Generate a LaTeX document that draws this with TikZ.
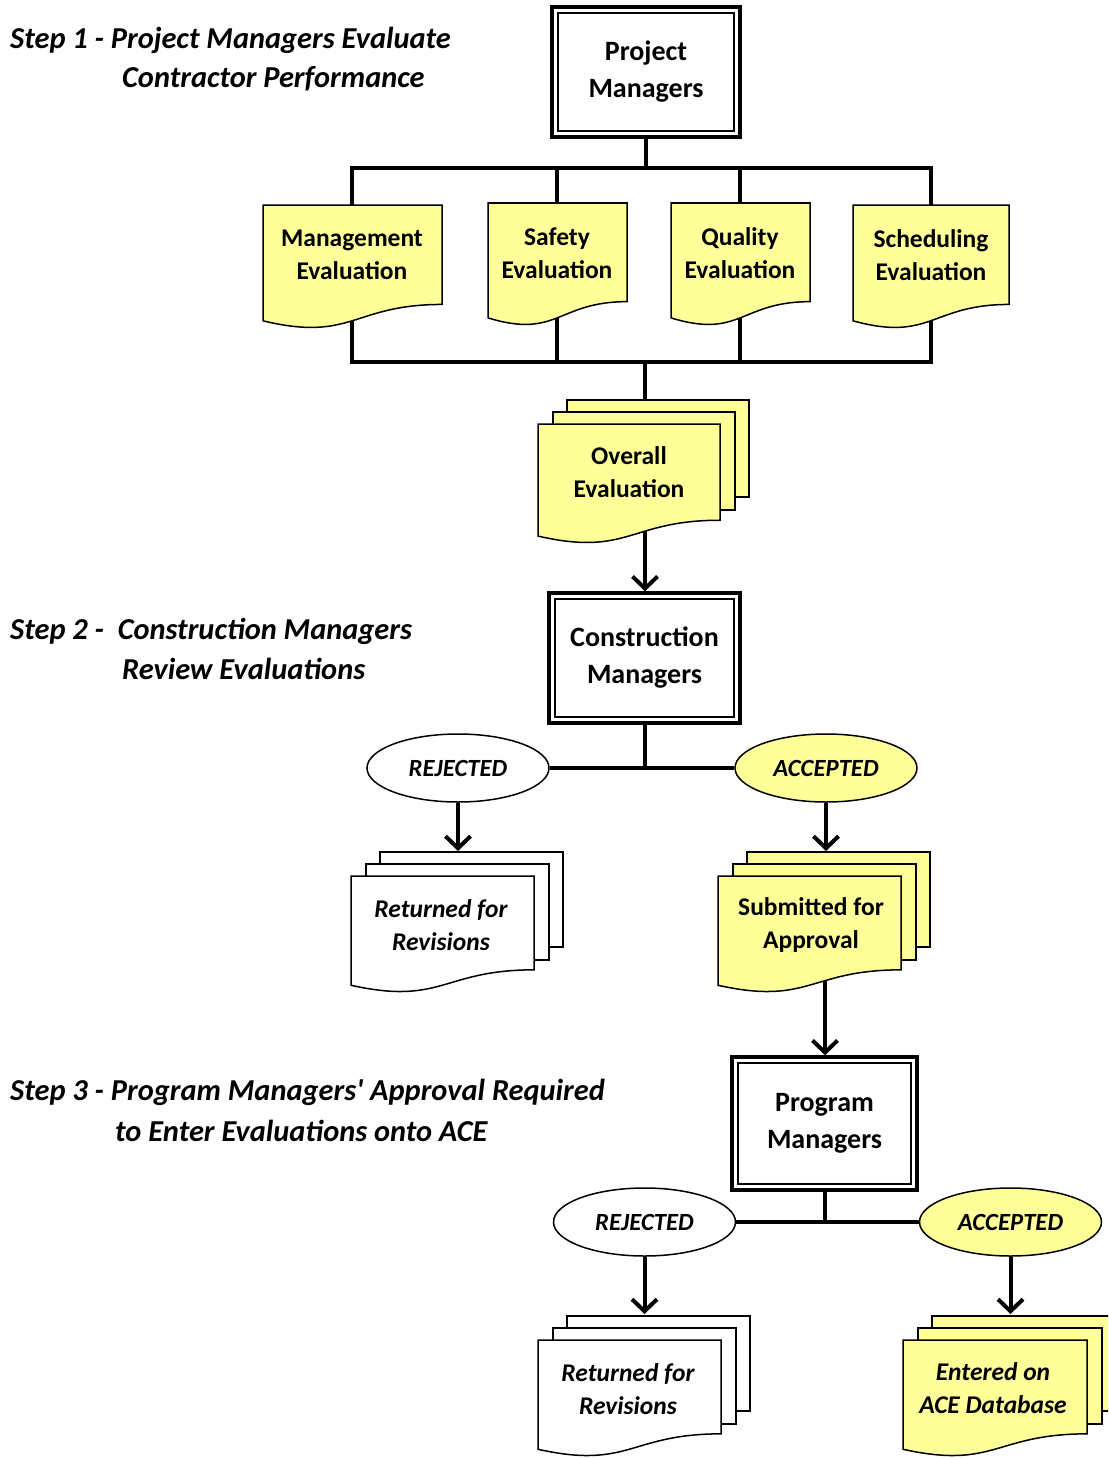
\documentclass[tikz,border=0pt]{standalone}
\usepackage{fontspec}
\setmainfont{Carlito}[BoldFont={Carlito Bold}, ItalicFont={Carlito Italic}, BoldItalicFont={Carlito Bold Italic}]
\newfontfamily\stepfont{Carlito}[BoldFont={Carlito Bold}, ItalicFont={Carlito Italic}, BoldItalicFont={Carlito Bold Italic}]
\usetikzlibrary{arrows.meta,fit,shapes.geometric,calc}
\pgfdeclarelayer{background}
\pgfsetlayers{background,main}
\definecolor{docyellow}{RGB}{255,255,153}
\tikzset{
  conn/.style={line width=4pt, line join=miter},
  arr/.style={conn, -{Straight Barb[length=12pt,width=25pt]}},
  shapeline/.style={line width=1.5pt, line join=miter},
  boxin/.style={draw, line width=2pt, fill=white, inner sep=0pt, align=center,
     font=\fontsize{28}{37}\selectfont\bfseries},
  boxout/.style={draw, line width=3.5pt, inner sep=5pt},
  doctext/.style={align=center, inner sep=0pt, font=\fontsize{25.5}{33}\selectfont\bfseries},
  docitext/.style={doctext, font=\fontsize{25.5}{33}\selectfont\bfseries\itshape},
  oval/.style={ellipse, draw, line width=1.5pt, minimum width=182pt, minimum height=68pt,
     inner sep=0pt, font=\fontsize{24.7}{28}\selectfont\bfseries\itshape},
  steptext/.style={anchor=base west, inner sep=0pt, font=\stepfont\fontsize{30.4}{39}\selectfont\bfseries\itshape}
}
\newcommand\docshape[5]{%
  \pgfmathsetmacro\dsxr{#2+#4}%
  \pgfmathsetmacro\dsyr{#3+0.802*#5}%
  \pgfmathsetmacro\dsxm{#2+0.5*#4}%
  \pgfmathsetmacro\dsyc{#3+1.1075*#5}%
  \pgfmathsetmacro\dsyl{#3+0.934*#5}%
  \draw[shapeline,fill=#1] (#2,#3) -- (\dsxr,#3) -- (\dsxr,\dsyr)
     .. controls (\dsxm,\dsyr) and (\dsxm,\dsyc) .. (#2,\dsyl) -- cycle;
}
\newcommand\docstack[5]{%
  \pgfmathsetmacro\skxa{#2+29}\pgfmathsetmacro\skya{#3-24}%
  \pgfmathsetmacro\skxb{#2+#4+29}\pgfmathsetmacro\skyb{#3+0.802*#5-23}%
  \draw[shapeline,fill=#1] (\skxa,\skya) rectangle (\skxb,\skyb);
  \pgfmathsetmacro\skxa{#2+15}\pgfmathsetmacro\skya{#3-12}%
  \pgfmathsetmacro\skxb{#2+#4+15}\pgfmathsetmacro\skyb{#3+0.802*#5-10}%
  \draw[shapeline,fill=#1] (\skxa,\skya) rectangle (\skxb,\skyb);
  \docshape{#1}{#2}{#3}{#4}{#5}%
}
\begin{document}
\begin{tikzpicture}[x=1pt,y=-1pt]
\clip (0,0) rectangle (1108,1458);

% step texts
\node[steptext] (s1a) at (10,49) {Step 1 - Project Managers Evaluate};
\node[steptext] (s1b) at (122,88) {Contractor Performance};
\node[steptext] (s2a) at (10,639) {Step 2 -\ \ Construction Managers};
\node[steptext] (s2b) at (122,679) {Review Evaluations};
\node[steptext] (s3a) at (10,1100) {Step 3 - Program Managers' Approval Required};
\node[steptext] (s3b) at (115,1141) {to Enter Evaluations onto ACE};

% Project managers
\node[boxin, minimum width=176pt, minimum height=118pt] (pm) at (646,72) {Project\\Managers};
\node[boxout, fit=(pm)] (pmo) {};

% evaluation documents
\docshape{docyellow}{263}{205}{179}{124}
\docshape{docyellow}{488}{203}{139}{123}
\docshape{docyellow}{671}{203}{139}{123}
\docshape{docyellow}{853}{205}{156}{124}
\node[doctext] (mgmt) at (352,255) {Management\\Evaluation};
\node[doctext] (safe) at (557,253) {Safety\\Evaluation};
\node[doctext] (qual) at (740,253) {Quality\\Evaluation};
\node[doctext] (sched) at (931,255) {Scheduling\\Evaluation};
\coordinate (mgmt-t) at (352,205);
\coordinate (safe-t) at (557,203);
\coordinate (qual-t) at (740,203);
\coordinate (sched-t) at (931,205);
\coordinate (mgmt-b) at (352,319);
\coordinate (safe-b) at (557,316);
\coordinate (qual-b) at (740,316);
\coordinate (sched-b) at (931,319);
\coordinate (bus1) at (646,168);
\coordinate (bus2) at (645,362);

% overall
\docstack{docyellow}{538}{424}{182}{120}
\node[doctext] (ov) at (629,472) {Overall\\Evaluation};
\coordinate (ov-t) at (645,400);
\coordinate (ov-b) at (645,530);

% construction managers
\node[boxin, minimum width=179pt, minimum height=118pt] (cm) at (644.5,658) {Construction\\Managers};
\node[boxout, fit=(cm)] (cmo) {};

\node[oval, fill=white] (rej1) at (458,768) {REJECTED};
\node[oval, fill=docyellow] (acc1) at (826,768) {ACCEPTED};

\docstack{white}{351}{876}{183}{117}
\node[docitext] (ret1) at (441,925) {Returned for\\Revisions};
\coordinate (ret1-t) at (458,851);
\docstack{docyellow}{718}{876}{183}{117}
\node[doctext] (sub) at (811,925) {Submitted for\\Approval};
\coordinate (sub-t) at (826,851);
\coordinate (sub-b) at (825,980);

% program managers
\node[boxin, minimum width=173pt, minimum height=121pt] (pg) at (824.5,1123.5) {Program\\Managers};
\node[boxout, fit=(pg)] (pgo) {};

\node[oval, fill=white] (rej2) at (644.5,1222) {REJECTED};
\node[oval, fill=docyellow] (acc2) at (1010.5,1222) {ACCEPTED};

\docstack{white}{538}{1340}{183}{117}
\node[docitext] (ret2) at (628,1389) {Returned for\\Revisions};
\coordinate (ret2-t) at (644.5,1314);
\docstack{docyellow}{903}{1340}{184}{117}
\node[docitext] (ent) at (993,1388) {Entered on\\ACE Database};
\coordinate (ent-t) at (1010.5,1314);

\begin{pgfonlayer}{background}
  \fill[white] (0,0) rectangle (1108,1458);
  \draw[conn] (pmo.south) -- (bus1);
  \draw[conn] (mgmt-t) -- (mgmt-t |- bus1) -- (sched-t |- bus1) -- (sched-t);
  \draw[conn] (safe-t) -- (safe-t |- bus1);
  \draw[conn] (qual-t) -- (qual-t |- bus1);
  \draw[conn] (mgmt-b) -- (mgmt-b |- bus2) -- (sched-b |- bus2) -- (sched-b);
  \draw[conn] (safe-b) -- (safe-b |- bus2);
  \draw[conn] (qual-b) -- (qual-b |- bus2);
  \draw[conn] (bus2) -- (ov-t);
  \draw[arr] (ov-b) -- (ov-b |- cmo.north);
  \draw[conn] (cmo.south) -- (cmo.south |- rej1.east);
  \draw[conn] (rej1.east) -- (acc1.west);
  \draw[arr] (rej1.south) -- (ret1-t);
  \draw[arr] (acc1.south) -- (sub-t);
  \draw[arr] (sub-b) -- (sub-b |- pgo.north);
  \draw[conn] (pgo.south) -- (pgo.south |- rej2.east);
  \draw[conn] (rej2.east) -- (acc2.west);
  \draw[arr] (rej2.south) -- (ret2-t);
  \draw[arr] (acc2.south) -- (ent-t);
\end{pgfonlayer}
\end{tikzpicture}
\end{document}
